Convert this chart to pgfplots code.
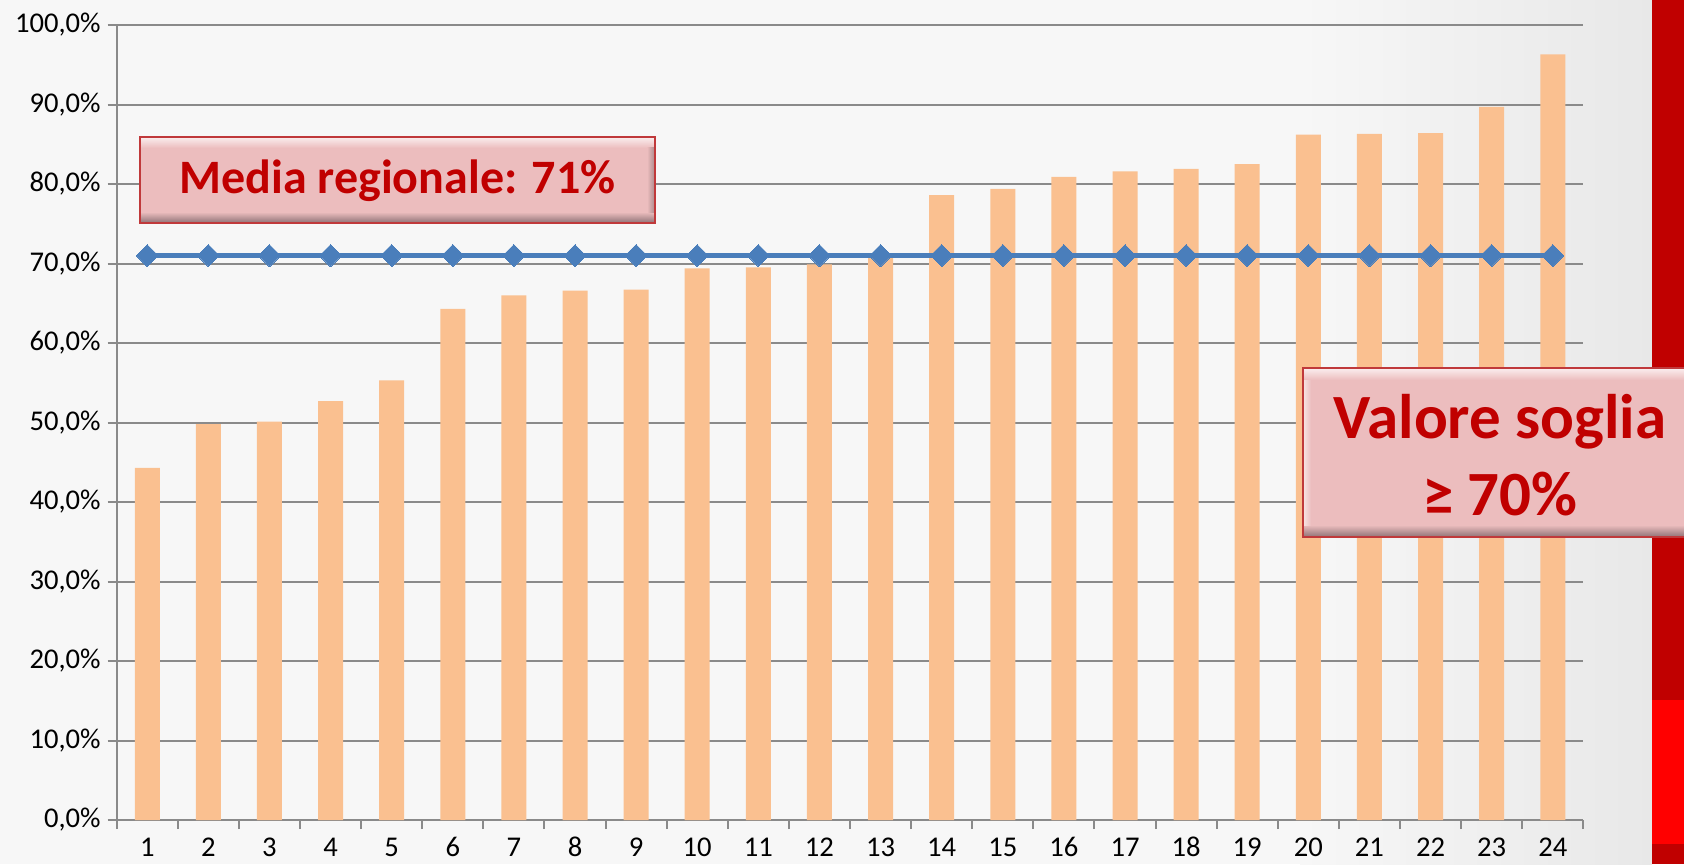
\documentclass[border=0pt]{standalone}
\usepackage{pgfplots}
\pgfplotsset{compat=1.18}
\usepackage{fontspec}
\setmainfont{Carlito}
\definecolor{bgc}{HTML}{F7F7F7}
\definecolor{barc}{HTML}{FAC090}
\definecolor{linec}{HTML}{4A7EBB}
\definecolor{gridc}{HTML}{8A8A8A}
\definecolor{darkred}{HTML}{C00000}
\definecolor{brightred}{HTML}{FF0000}
\definecolor{boxfill}{HTML}{ECBDBE}
\definecolor{boxborder}{HTML}{C0393B}
\definecolor{boxdark}{HTML}{8E7276}
\begin{document}
\begin{tikzpicture}
\useasboundingbox (0pt,0pt) rectangle (842pt,432pt);
\begin{scope}[x=0.5pt,y=0.5pt]
\fill[bgc] (0,0) rectangle (1684,864);
\shade[left color=bgc, right color=black!9] (1300,0) rectangle (1652,864);
\fill[darkred] (1652,0) rectangle (1684,864);
\fill[brightred] (1652,20) rectangle (1684,164);
\end{scope}
\begin{axis}[
  at={(58.35pt,22pt)}, anchor=south west,
  scale only axis, width=733.3pt, height=397.5pt,
  xmin=0.5, xmax=24.5, ymin=0, ymax=100,
  axis x line*=bottom, axis y line*=left,
  axis line style={draw=gridc, line width=1pt, -},
  xtick={1,...,24},
  minor xtick={0.5,1.5,...,24.5},
  major x tick style={draw=none},
  minor x tick style={draw=gridc, line width=1pt},
  ytick={0,10,...,100},
  ytick style={draw=gridc, line width=1pt},
  tick align=outside, major tick length=4.5pt, minor tick length=4.5pt,
  ymajorgrids, grid style={draw=gridc, line width=1pt},
  /pgf/number format/assume math mode=true,
  yticklabel={\pgfmathprintnumber[fixed,fixed zerofill,precision=1,use comma]{\tick}\%},
  ticklabel style={font=\fontsize{14.3}{17}\selectfont, text=black},
  xticklabel style={anchor=north, text height=9pt, text depth=0pt, inner sep=2pt, yshift=-2.5pt},
  clip=false,
]
\addplot[ybar, bar width=12.5pt, fill=barc, draw=none] coordinates {
(1,44.3) (2,49.8) (3,50.1) (4,52.7) (5,55.3) (6,64.3) (7,66.0) (8,66.6)
(9,66.7) (10,69.4) (11,69.5) (12,69.9) (13,71.2) (14,78.6) (15,79.4) (16,80.9)
(17,81.6) (18,81.9) (19,82.5) (20,86.2) (21,86.3) (22,86.4) (23,89.7) (24,96.3)};
\addplot[linec, line width=2.4pt, mark=square*, mark size=3.9pt,
  mark options={rotate=45, fill=linec, draw=linec, line width=0pt}] coordinates {
(1,71) (2,71) (3,71) (4,71) (5,71) (6,71) (7,71) (8,71) (9,71) (10,71) (11,71) (12,71)
(13,71) (14,71) (15,71) (16,71) (17,71) (18,71) (19,71) (20,71) (21,71) (22,71) (23,71) (24,71)};
\end{axis}
\begin{scope}[x=0.5pt,y=0.5pt]
% Media regionale box
\fill[boxfill] (140,641) rectangle (655,727);
\shade[top color=white!75!boxfill, bottom color=boxfill] (140,716) rectangle (655,727);
\shade[top color=boxfill, bottom color=boxdark] (140,641) rectangle (655,652);
\shade[left color=boxfill, right color=boxdark!70!boxfill] (647,652) rectangle (655,716);
\draw[boxborder, line width=1pt] (140,641) rectangle (655,727);
\node[anchor=base, inner sep=0pt, text=darkred, font=\bfseries\fontsize{24}{28}\selectfont] at (397.5,671) {Media regionale: 71\%};
% Valore soglia box
\fill[boxfill] (1303,327) rectangle (1700,496);
\shade[top color=white!75!boxfill, bottom color=boxfill] (1303,484) rectangle (1700,496);
\shade[top color=boxfill, bottom color=boxdark] (1303,327) rectangle (1700,339);
\shade[left color=white!60!boxfill, right color=boxfill] (1303,339) rectangle (1311,484);
\draw[boxborder, line width=1pt] (1303,327) rectangle (1700,496);
\node[anchor=base, inner sep=0pt, text=darkred, font=\bfseries\fontsize{31.5}{38}\selectfont] at (1500,426) {Valore soglia};
\node[anchor=base, inner sep=0pt, text=darkred, font=\bfseries\fontsize{31.5}{38}\selectfont] at (1500,349) {≥ 70\%};
\end{scope}
\end{tikzpicture}
\end{document}
